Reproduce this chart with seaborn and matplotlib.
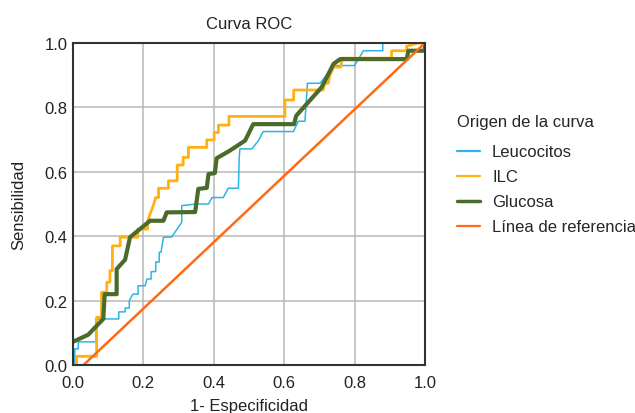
import matplotlib
matplotlib.use("Agg")
import matplotlib.pyplot as plt
import seaborn as sns
import pandas as pd

# ---- data ----
leuco_x = [0.0, 0.005, 0.005, 0.015, 0.015, 0.065, 0.065, 0.13, 0.13, 0.148, 0.148, 0.16, 0.16,
           0.17, 0.185, 0.185, 0.205, 0.21, 0.222, 0.222, 0.235, 0.235, 0.245, 0.245, 0.25,
           0.257, 0.28, 0.309, 0.309, 0.309, 0.35, 0.385, 0.395, 0.427, 0.441, 0.47, 0.472,
           0.474, 0.508, 0.527, 0.54, 0.626, 0.64, 0.659, 0.666, 0.702, 0.72, 0.74, 0.80,
           0.825, 0.88, 0.88, 1.0]
leuco_y = [0.0, 0.0, 0.05, 0.05, 0.072, 0.072, 0.143, 0.143, 0.165, 0.165, 0.177, 0.177, 0.20,
           0.22, 0.22, 0.246, 0.246, 0.267, 0.267, 0.29, 0.29, 0.32, 0.32, 0.35, 0.35,
           0.397, 0.397, 0.443, 0.469, 0.495, 0.5, 0.5, 0.52, 0.52, 0.549, 0.549, 0.64,
           0.671, 0.671, 0.697, 0.725, 0.725, 0.757, 0.757, 0.875, 0.875, 0.90, 0.93, 0.93,
           0.976, 0.976, 1.0, 1.0]

ilc_x = [0.0, 0.01, 0.01, 0.067, 0.067, 0.081, 0.081, 0.096, 0.096, 0.105, 0.105, 0.112,
         0.112, 0.134, 0.134, 0.184, 0.184, 0.212, 0.212, 0.219, 0.228, 0.235, 0.243, 0.243,
         0.271, 0.271, 0.296, 0.296, 0.313, 0.313, 0.328, 0.328, 0.38, 0.38, 0.401, 0.401,
         0.413, 0.413, 0.443, 0.443, 0.602, 0.602, 0.627, 0.627, 0.711, 0.715, 0.725, 0.73,
         0.74, 0.76, 0.765, 0.905, 0.905, 0.948, 0.948, 0.98, 1.0]
ilc_y = [0.0, 0.0, 0.027, 0.027, 0.148, 0.148, 0.226, 0.226, 0.257, 0.257, 0.293, 0.293,
         0.37, 0.37, 0.397, 0.397, 0.422, 0.422, 0.445, 0.469, 0.495, 0.52, 0.52, 0.549,
         0.549, 0.572, 0.572, 0.621, 0.621, 0.645, 0.645, 0.676, 0.676, 0.699, 0.699, 0.722,
         0.722, 0.745, 0.745, 0.772, 0.772, 0.823, 0.823, 0.854, 0.854, 0.875, 0.875, 0.90,
         0.925, 0.925, 0.953, 0.953, 0.976, 0.976, 0.99, 1.0, 1.0]

glu_x = [0.0, 0.043, 0.086, 0.09, 0.124, 0.124, 0.148, 0.162, 0.219, 0.257, 0.266, 0.347,
         0.356, 0.38, 0.385, 0.403, 0.408, 0.446, 0.489, 0.512, 0.628, 0.634, 0.706, 0.716,
         0.74, 0.759, 0.948, 0.953, 1.0, 1.0]
glu_y = [0.072, 0.094, 0.143, 0.22, 0.22, 0.298, 0.327, 0.397, 0.448, 0.448, 0.474, 0.475,
         0.547, 0.55, 0.593, 0.596, 0.642, 0.666, 0.697, 0.748, 0.748, 0.774, 0.862, 0.883,
         0.935, 0.95, 0.95, 0.976, 0.976, 1.0]

ref_x = [0.03, 1.0]
ref_y = [0.0, 1.0]

labels = ["Leucocitos", "ILC", "Glucosa", "Línea de referencia"]
colors = ["#2db4e8", "#ffb012", "#4a6b2b", "#ff6a13"]
widths = [1.1, 2.0, 3.0, 1.8]

series = [(leuco_x, leuco_y), (ilc_x, ilc_y), (glu_x, glu_y), (ref_x, ref_y)]

sns.set_theme(style="white")
plt.rcParams['font.family'] = ['Liberation Sans', 'DejaVu Sans']

fig = plt.figure(figsize=(6.35, 4.14), dpi=100)
ax = fig.add_axes([73/635, 1-366/414, (425-73)/635, (366-44)/414])

for (xs, ys), lab, col, lw in zip(series, labels, colors, widths):
    df = pd.DataFrame({"x": xs, "y": ys})
    sns.lineplot(data=df, x="x", y="y", ax=ax, sort=False, estimator=None,
                 color=col, linewidth=lw, label=lab)

ax.set_xlim(0, 1)
ax.set_ylim(0, 1)
ticks = [0.0, 0.2, 0.4, 0.6, 0.8, 1.0]
ax.set_xticks(ticks)
ax.set_yticks(ticks)
ax.set_xticklabels([f"{t:.1f}" for t in ticks])
ax.set_yticklabels([f"{t:.1f}" for t in ticks])
ax.tick_params(axis="both", length=0, labelsize=12, colors="#222222")
ax.tick_params(axis="x", pad=7)
ax.tick_params(axis="y", pad=4)
ax.grid(True, color="#b8b8b8", linewidth=1.1)
ax.set_axisbelow(True)
for sp in ax.spines.values():
    sp.set_color("#333333")
    sp.set_linewidth(1.5)

ax.set_xlabel("1- Especificidad", fontsize=12, color="#222222", labelpad=6)
ax.set_ylabel("Sensibilidad", fontsize=12, color="#222222", labelpad=13)
ax.set_title("Curva ROC", fontsize=12, color="#222222", pad=11)

leg = ax.legend(title="Origen de la curva", loc="upper left",
                bbox_to_anchor=(1.072, 0.80), frameon=False, fontsize=12,
                title_fontsize=12, handlelength=1.4, handletextpad=0.7,
                labelspacing=0.6, borderaxespad=0)
leg._legend_box.align = "left"
leg._legend_box.sep = 11
for h, lw in zip(leg.get_lines(), widths):
    h.set_linewidth(2.5 if lw > 2.5 else 1.6)

fig.savefig("out.png", dpi=100)
